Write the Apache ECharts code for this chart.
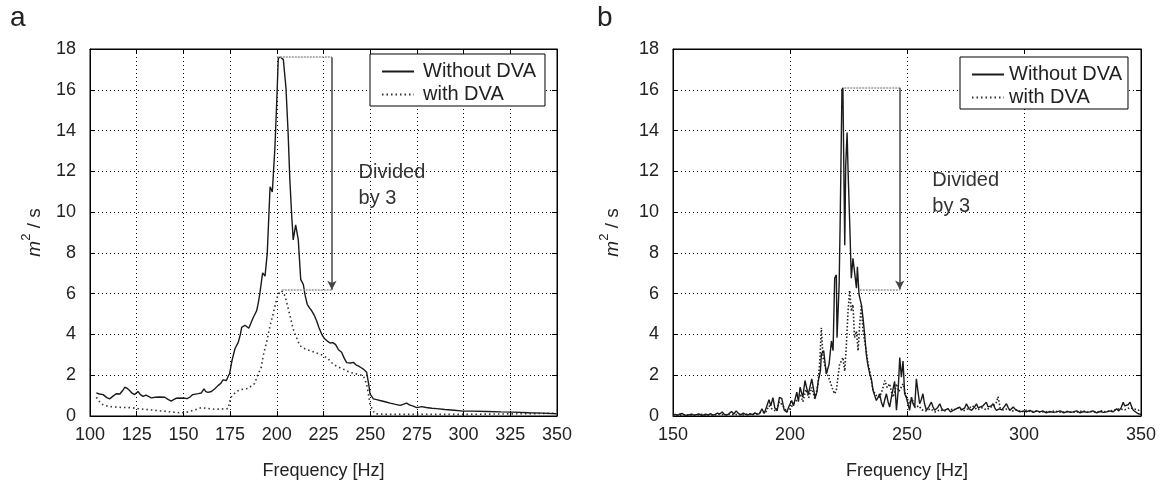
<!DOCTYPE html>
<html><head><meta charset="utf-8">
<script src="https://cdn.jsdelivr.net/npm/echarts@6/dist/echarts.min.js"></script>
<style>html,body{margin:0;padding:0;background:#fff}#c{width:1167px;height:485px}</style>
</head><body><div id="c"></div>
<script>
// Panel a: [frequency Hz, m^2/s]
const aWithout = [[103.4,1.13],[105,1.08],[107,1.05],[109,0.9],[110.5,0.84],[112,0.95],[114,1.09],[116,1.08],[117.5,1.25],[118.6,1.41],[120,1.35],[121.2,1.25],[122.5,1.12],[123.9,1.05],[125.7,1.2],[127,1.05],[128.4,0.96],[130,1.02],[131,1.0],[132.8,0.89],[135,0.92],[137,0.93],[140,0.92],[142,0.8],[143.5,0.73],[145,0.82],[146.2,0.87],[148,0.88],[150.7,0.87],[152,0.85],[153.4,0.92],[155,1.05],[156,1.12],[158,1.1],[159.6,1.13],[161,1.33],[162,1.2],[163.2,1.16],[165,1.2],[165.8,1.25],[167,1.35],[168.5,1.49],[170,1.6],[171.2,1.77],[173,1.74],[174,1.95],[174.8,2.1],[176,2.71],[177.6,3.3],[179.4,3.62],[180.5,4.0],[181.2,4.35],[183,4.45],[183.9,4.43],[185,4.3],[186,4.26],[187.4,4.83],[189.2,5.16],[190,5.5],[191,6.05],[192.4,7.02],[193.7,6.86],[194.9,7.99],[196.4,11.24],[197.6,10.99],[199,13.18],[200,15.5],[200.8,17.56],[202,17.6],[203.5,17.48],[204.9,16.1],[206,14.0],[207,11.56],[208,9.8],[208.8,8.64],[210.1,9.37],[211.5,8.64],[212.8,6.7],[214.2,6.45],[215.2,5.9],[216.3,5.48],[217.5,5.3],[218.7,5.16],[220,4.95],[221.3,4.67],[222.5,4.35],[224,4.02],[225.5,3.8],[226.7,3.7],[228.5,3.58],[230,3.6],[231.5,3.5],[233,3.25],[234.7,3.13],[236,2.85],[237.4,2.62],[239.5,2.6],[241,2.63],[242.5,2.5],[243.6,2.46],[245,2.38],[246.3,2.3],[248.1,2.14],[249.3,1.5],[249.9,1.09],[251.7,0.84],[253.5,0.8],[255.2,0.76],[258,0.7],[260.6,0.63],[263,0.58],[266,0.52],[268,0.58],[269.5,0.63],[271,0.55],[273,0.48],[274.9,0.41],[277.6,0.46],[280,0.42],[283,0.38],[285.6,0.36],[290,0.32],[295,0.28],[299.8,0.24],[305,0.24],[312.4,0.22],[320,0.2],[326.6,0.19],[335,0.16],[342,0.14],[349.8,0.11]];
const aWith = [[103.4,0.92],[104.3,0.8],[105.9,0.6],[108,0.52],[110,0.47],[113.2,0.44],[117,0.42],[122.1,0.41],[125.7,0.36],[130,0.32],[134.6,0.28],[139,0.24],[143.5,0.2],[148.9,0.15],[152.4,0.2],[156,0.3],[159.6,0.41],[163,0.37],[166.7,0.33],[170,0.34],[173.9,0.36],[175.3,0.9],[178.3,1.2],[181,1.3],[184.6,1.35],[188.2,1.6],[189.5,1.95],[191.7,2.4],[192.8,3.0],[194.5,3.6],[196.4,4.43],[198,5.0],[199.9,5.72],[201,6.0],[202.6,6.15],[204.4,5.89],[206.2,5.24],[207.5,4.75],[208.8,4.26],[210.5,3.85],[212.4,3.45],[215,3.3],[217.8,3.21],[221,3.1],[224.9,2.97],[227.5,2.8],[230.2,2.54],[233,2.4],[236,2.28],[239.2,2.14],[243,2.05],[246.3,1.98],[248.1,1.57],[249,1.1],[249.9,0.6],[251.2,0.3],[252.6,0.11],[258.9,0.08],[280,0.08],[300,0.08],[320,0.1],[340,0.12],[349,0.14]];
// Panel b
const bWithout = [[150,0.05],[151,0.08],[152,0.03],[153,0.1],[154,0.12],[155,0.05],[156,0.03],[157,0.06],[158,0.09],[159,0.04],[160,0.07],[161,0.1],[162,0.04],[163,0.05],[164,0.09],[165,0.05],[166,0.12],[167,0.04],[168,0.08],[169,0.14],[170,0.1],[171,0.2],[172,0.07],[173,0.05],[174,0.12],[175,0.22],[176,0.1],[177,0.25],[178,0.12],[179,0.06],[180,0.14],[181,0.08],[182,0.05],[183,0.12],[184,0.07],[185,0.15],[186,0.08],[187,0.12],[188,0.35],[189,0.12],[190,0.45],[191,0.8],[191.8,0.5],[192.7,0.9],[193.5,0.4],[194.5,0.25],[195.5,0.92],[196.5,0.85],[197.5,0.3],[198.6,0.19],[199.5,0.45],[200.7,0.76],[201.5,0.5],[202.9,1.17],[203.6,0.7],[204.3,1.41],[205.5,0.92],[206.4,1.74],[207,1.82],[207.8,1.05],[208.4,1.09],[209.3,1.82],[209.8,1.74],[210.7,0.9],[211.5,1.17],[212.1,1.74],[213,2.22],[213.4,3.03],[214.4,3.2],[215.5,2.06],[216.7,2.54],[217.7,3.68],[218.4,3.2],[219.1,6.76],[219.8,6.92],[220.1,3.84],[221,6.43],[221.5,10.0],[222.2,16.0],[222.6,16.1],[223.4,8.38],[223.8,12.27],[224.4,13.9],[224.8,12.1],[225.5,9.52],[226.2,6.76],[226.9,7.73],[227.6,7.65],[228.4,6.27],[228.8,7.32],[229.5,5.96],[230.5,5.46],[231.2,4.81],[231.9,4.0],[232.6,3.03],[233.3,2.5],[234.1,2.06],[234.8,1.8],[235.5,1.25],[236.2,1.0],[236.9,0.76],[237.6,0.9],[238.3,1.09],[239,0.7],[239.8,0.44],[240.5,0.8],[241.2,1.09],[241.9,0.7],[242.6,0.44],[243.3,0.9],[244,0.92],[244.7,1.7],[245.5,0.28],[246.2,1.2],[246.9,2.87],[247.6,1.9],[248.3,2.7],[249,1.09],[249.7,0.92],[250.4,0.6],[251.1,0.28],[251.9,0.92],[252.6,0.6],[253.3,0.44],[254,1.82],[254.7,1.2],[255.4,0.6],[256.1,0.8],[256.8,1.09],[257.5,0.6],[258.3,0.28],[259.3,0.45],[260.4,0.68],[261.1,0.45],[261.8,0.28],[263,0.4],[264,0.6],[264.7,0.4],[265.4,0.28],[266.4,0.3],[267.5,0.36],[268.6,0.2],[269.7,0.28],[271,0.35],[272.5,0.44],[273.3,0.3],[274,0.28],[274.7,0.4],[275.4,0.6],[276.5,0.35],[277.6,0.28],[278.6,0.4],[279.7,0.6],[280.4,0.4],[281.1,0.36],[282.5,0.5],[283.9,0.68],[284.6,0.45],[285.4,0.36],[286.1,0.5],[286.8,0.6],[287.5,0.4],[288.2,0.28],[289.5,0.35],[290.5,0.3],[291.5,0.45],[292.5,0.6],[293.3,0.4],[294,0.28],[294.7,0.35],[295.4,0.44],[296.5,0.3],[298.3,0.2],[300,0.25],[301,0.2],[302.5,0.28],[304,0.18],[305.5,0.25],[306.8,0.2],[308,0.25],[309.5,0.15],[311,0.22],[312.5,0.18],[313.9,0.2],[315.5,0.25],[317,0.15],[318.5,0.22],[320,0.18],[321,0.2],[322.5,0.25],[324,0.15],[325.5,0.22],[327,0.18],[328.2,0.2],[329.5,0.25],[331,0.15],[332.5,0.22],[334,0.18],[335.3,0.2],[336.5,0.25],[338,0.2],[339.6,0.36],[340.5,0.25],[341.5,0.4],[342.4,0.68],[343,0.5],[343.8,0.44],[344.5,0.55],[345.3,0.68],[346,0.45],[346.7,0.28],[347.5,0.2],[348.8,0.11],[350,0.08]];
const bWith = [[150,0.03],[152,0.05],[154,0.04],[156,0.06],[158,0.03],[160,0.05],[162,0.08],[164,0.04],[166,0.06],[168,0.05],[170,0.08],[172,0.05],[174,0.1],[176,0.06],[178,0.08],[180,0.05],[182,0.1],[184,0.06],[186,0.12],[188,0.2],[189.5,0.15],[191,0.5],[192.7,0.3],[194,0.25],[195.5,0.7],[197,0.5],[198.6,0.2],[200,0.35],[201.5,0.6],[203,0.8],[204.3,1.1],[205.5,0.7],[206.8,1.3],[208,0.9],[209.3,1.4],[210.7,0.8],[212,1.6],[212.8,2.8],[213.4,4.33],[214.1,2.87],[215.5,2.2],[217,1.74],[218.4,1.25],[219.1,1.09],[219.8,1.25],[220.5,1.9],[221.2,2.54],[222,2.7],[222.6,2.87],[223.4,2.2],[224.1,3.52],[224.8,5.14],[225.5,6.16],[226.2,5.14],[226.9,5.46],[227.6,3.84],[228.4,4.16],[229.1,3.2],[229.8,4.5],[230.5,5.46],[231.2,4.16],[232,3.6],[232.6,3.2],[233.3,2.6],[234.1,2.2],[234.8,1.7],[235.5,1.25],[236.9,1.0],[238.3,0.92],[239.5,1.3],[240.5,1.74],[241.5,1.4],[242.6,1.58],[243.3,1.2],[244,0.92],[244.8,1.2],[245.5,1.58],[246.5,1.2],[247.5,1.4],[248.3,1.58],[249.5,1.0],[251.1,0.6],[252,0.9],[253.5,0.4],[255,0.5],[256.5,0.3],[258,0.25],[260,0.35],[262,0.2],[264,0.3],[266,0.25],[268,0.35],[270,0.3],[272,0.4],[274,0.25],[276,0.35],[278,0.5],[280,0.3],[282,0.4],[284,0.3],[286,0.45],[288,0.6],[288.9,0.95],[289.8,0.4],[291,0.3],[293,0.35],[295,0.25],[297,0.3],[299,0.2],[301,0.28],[303,0.2],[305,0.25],[307,0.18],[309,0.22],[311,0.2],[313,0.25],[315,0.18],[317,0.2],[319,0.22],[321,0.18],[323,0.2],[325,0.25],[327,0.2],[329,0.22],[331,0.18],[333,0.25],[335,0.2],[337,0.25],[339,0.3],[341,0.35],[343,0.3],[345,0.4],[347,0.35],[349,0.28],[350,0.3]];
// Annotation values
const aNote = {topX: 200, peak: 17.6, lowX: 202.6, low: 6.19, arrowX: 229.5, textX: 243.5, textY: 11.3};
const bNote = {topX: 223.2, peak: 16.1, lowX: 229.8, low: 6.2, arrowX: 246.9, textX: 260.6, textY: 10.9};
const seriesNames = ['Without DVA', 'with DVA'];
const yTicks = {min: 0, max: 18, interval: 2};

const FONT = 'Liberation Sans, Arial, sans-serif';
const chart = echarts.init(document.getElementById('c'), null, {renderer: 'canvas'});

function xAxisCfg(gi, min, max, interval) {
  return {
    type: 'value', gridIndex: gi, min: min, max: max, interval: interval,
    name: 'Frequency [Hz]', nameLocation: 'middle', nameGap: 46,
    nameTextStyle: {fontFamily: FONT, fontSize: 18, color: '#222'},
    axisLine: {show: true, lineStyle: {color: '#000', width: 1}},
    axisTick: {show: true, inside: true, length: 5, lineStyle: {color: '#000'}},
    axisLabel: {fontFamily: FONT, fontSize: 18, color: '#222', margin: 10},
    splitLine: {show: true, lineStyle: {color: '#000', type: [1, 3], width: 1}}
  };
}
function xTopCfg(gi, min, max, interval) {
  return {
    type: 'value', gridIndex: gi, position: 'top', min: min, max: max, interval: interval,
    axisLine: {show: true, onZero: false, lineStyle: {color: '#000', width: 1}},
    axisTick: {show: true, inside: true, length: 5, lineStyle: {color: '#000'}},
    axisLabel: {show: false}, splitLine: {show: false}
  };
}
function yAxisCfg(gi, gap) {
  return {
    type: 'value', gridIndex: gi, min: yTicks.min, max: yTicks.max, interval: yTicks.interval,
    name: '{i|m}{s|2}{t| / s}', nameLocation: 'middle', nameGap: gap,
    nameTextStyle: {fontFamily: FONT, fontSize: 19, color: '#222', rich: {
      i: {fontStyle: 'italic', fontFamily: FONT, fontSize: 19, color: '#222', lineHeight: 24, verticalAlign: 'bottom'},
      s: {fontFamily: FONT, fontSize: 13, color: '#222', lineHeight: 13, verticalAlign: 'top'},
      t: {fontFamily: FONT, fontSize: 19, color: '#222', lineHeight: 24, verticalAlign: 'bottom'}
    }},
    axisLine: {show: true, lineStyle: {color: '#000', width: 1}},
    axisTick: {show: true, inside: true, length: 5, lineStyle: {color: '#000'}},
    axisLabel: {fontFamily: FONT, fontSize: 18, color: '#222', margin: 14},
    splitLine: {show: true, lineStyle: {color: '#000', type: [1, 3], width: 1}}
  };
}
function yRightCfg(gi) {
  return {
    type: 'value', gridIndex: gi, position: 'right', min: yTicks.min, max: yTicks.max, interval: yTicks.interval,
    axisLine: {show: true, onZero: false, lineStyle: {color: '#000', width: 1}},
    axisTick: {show: true, inside: true, length: 5, lineStyle: {color: '#000'}},
    axisLabel: {show: false}, splitLine: {show: false}
  };
}
function noteMarks(n) {
  return {
    markLine: {
      silent: true, animation: false,
      label: {show: false},
      data: [
        [{coord: [n.topX, n.peak], symbol: 'none', lineStyle: {color: '#999', type: [2, 1], width: 1.5}}, {coord: [n.arrowX, n.peak], symbol: 'none'}],
        [{coord: [n.lowX, n.low], symbol: 'none', lineStyle: {color: '#999', type: [2, 1], width: 1.5}}, {coord: [n.arrowX, n.low], symbol: 'none'}],
        [{coord: [n.arrowX, n.peak], symbol: 'none', lineStyle: {color: '#444', type: 'solid', width: 1.5}}, {coord: [n.arrowX, n.low], symbol: 'arrow', symbolSize: [7, 9]}]
      ]
    },
    markPoint: {
      silent: true, animation: false,
      symbol: 'rect', symbolSize: 1, itemStyle: {color: 'rgba(0,0,0,0)'},
      label: {show: true, position: 'right', distance: 0, formatter: 'Divided\nby 3', fontFamily: FONT, fontSize: 20, lineHeight: 26, color: '#333', align: 'left'},
      data: [{coord: [n.textX, n.textY]}]
    }
  };
}
function lineSeries(name, xi, data, dotted, extra) {
  const col = dotted ? '#333' : '#1a1a1a';
  const s = {
    name: name, type: 'line', xAxisIndex: xi, yAxisIndex: xi, data: data,
    showSymbol: false, symbol: 'none', animation: false, z: dotted ? 3 : 4,
    itemStyle: {color: col},
    lineStyle: dotted ? {color: col, width: 1.6, type: [1.5, 3]} : {color: col, width: 1.4}
  };
  return Object.assign(s, extra || {});
}
function legendCfg(left, top, padding, textPad) {
  return {
    orient: 'vertical', left: left, top: top, data: seriesNames,
    backgroundColor: '#fff', borderColor: '#000', borderWidth: 1, borderRadius: 0,
    padding: padding, itemGap: 2, itemWidth: 32, itemHeight: 14,
    itemStyle: {opacity: 0, color: 'rgba(0,0,0,0)', borderWidth: 0},
    textStyle: {fontFamily: FONT, fontSize: 20, color: '#222', lineHeight: 21, padding: textPad},
    selectedMode: false
  };
}

chart.setOption({
  animation: false,
  grid: [
    {left: 90, top: 49, width: 467, height: 370, show: true, borderColor: '#000', borderWidth: 1, backgroundColor: '#fff'},
    {left: 673, top: 49, width: 468, height: 370, show: true, borderColor: '#000', borderWidth: 1, backgroundColor: '#fff'}
  ],
  xAxis: [xAxisCfg(0, 100, 350, 25), xAxisCfg(1, 150, 350, 50), xTopCfg(0, 100, 350, 25), xTopCfg(1, 150, 350, 50)],
  yAxis: [yAxisCfg(0, 46), yAxisCfg(1, 51), yRightCfg(0), yRightCfg(1)],
  legend: [legendCfg(370, 54, [7, 9, 1, 11], [0, 0, 0, 4]), legendCfg(960, 57, [7, 6, 1, 11], [0, 0, 0, 0])],
  graphic: [
    {type: 'text', left: 10, top: 4, style: {text: 'a', fontFamily: FONT, fontSize: 28, fill: '#222'}},
    {type: 'text', left: 597, top: 4, style: {text: 'b', fontFamily: FONT, fontSize: 28, fill: '#222'}}
  ],
  series: [
    lineSeries(seriesNames[0], 0, aWithout, false, noteMarks(aNote)),
    lineSeries(seriesNames[1], 0, aWith, true),
    lineSeries(seriesNames[0], 1, bWithout, false, noteMarks(bNote)),
    lineSeries(seriesNames[1], 1, bWith, true, {lineStyle: {color: '#222', width: 1.6, type: [1.5, 2]}})
  ]
});
</script></body></html>
